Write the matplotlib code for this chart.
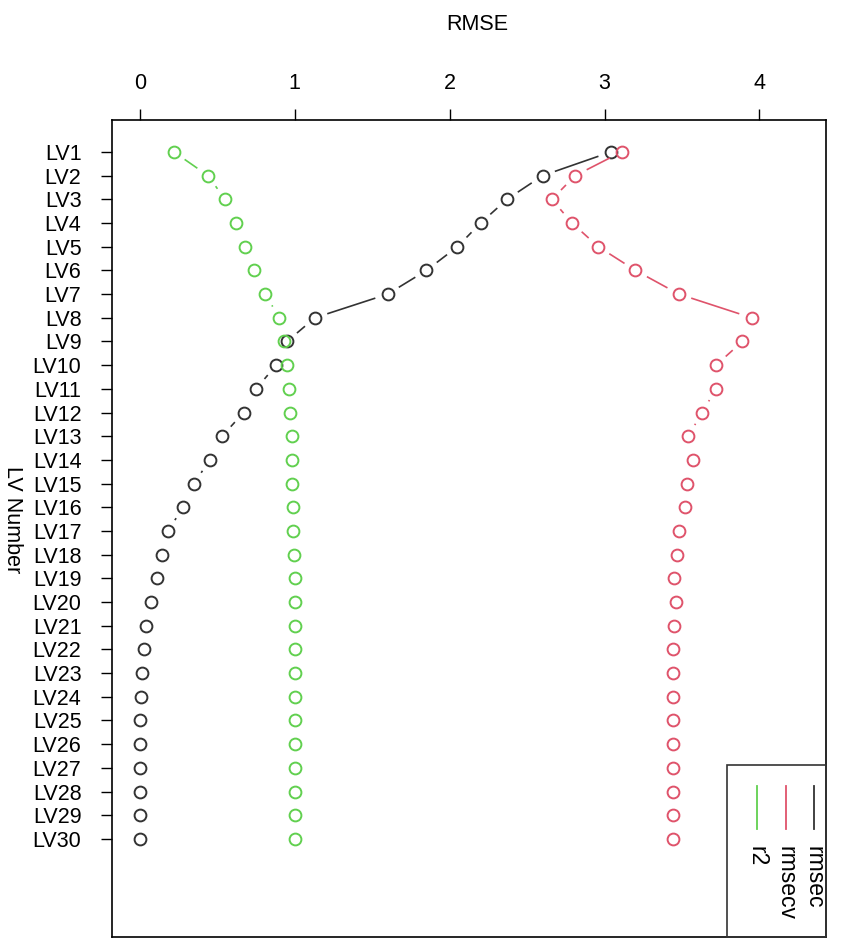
import numpy as np
import matplotlib.pyplot as plt
from matplotlib.patches import Rectangle
from matplotlib.lines import Line2D

plt.rcParams['font.family'] = ['Liberation Sans', 'DejaVu Sans']

lv_labels = ['LV%d' % i for i in range(1, 31)]
lv = np.arange(1, 31)

rmsec = [3.04, 2.60, 2.37, 2.20, 2.05, 1.85, 1.60, 1.13, 0.95, 0.88,
         0.75, 0.67, 0.53, 0.45, 0.35, 0.28, 0.18, 0.14, 0.11, 0.07,
         0.04, 0.025, 0.015, 0.008, 0.004, 0.002, 0.001, 0.0, 0.0, 0.0]
rmsecv = [3.11, 2.81, 2.66, 2.79, 2.96, 3.20, 3.48, 3.95, 3.89, 3.72,
          3.72, 3.63, 3.54, 3.57, 3.53, 3.52, 3.48, 3.47, 3.45, 3.46,
          3.45, 3.44, 3.44, 3.44, 3.44, 3.44, 3.44, 3.44, 3.44, 3.44]
r2 = [0.22, 0.44, 0.55, 0.62, 0.68, 0.74, 0.81, 0.90, 0.93, 0.95,
      0.96, 0.97, 0.98, 0.98, 0.985, 0.99, 0.99, 0.995, 1.0, 1.0,
      1.0, 1.0, 1.0, 1.0, 1.0, 1.0, 1.0, 1.0, 1.0, 1.0]

series_names = ['rmsec', 'rmsecv', 'r2']
colors = ['#333333', '#DF536B', '#61D04F']
x_ticks = [0, 1, 2, 3, 4]

W, H = 851, 939
fig = plt.figure(figsize=(W / 100, H / 100), dpi=100)
ax = fig.add_axes([112 / W, 1 - 937 / H, (826 - 112) / W, (937 - 120) / H])
ax.set_xlim(-0.18, 4.43)
ax.set_ylim(34.14, -0.35)

# R style type="b": segments with gaps around the points
gap = 13
for vals, col in zip([rmsec, rmsecv, r2], colors):
    pts = ax.transData.transform(np.column_stack([vals, lv]))
    for p, q in zip(pts[:-1], pts[1:]):
        d = q - p
        L = np.hypot(*d)
        if L > 2 * gap + 1:
            u = d / L
            a = ax.transData.inverted().transform([p + u * gap, q - u * gap])
            ax.plot(a[:, 0], a[:, 1], color=col, lw=1.2, solid_capstyle='butt')
    ax.plot(vals, lv, ls='none', marker='o', ms=8.5, mfc='none', mec=col, mew=1.4)

ax.xaxis.tick_top()
ax.set_xticks(x_ticks)
ax.set_xticklabels([str(t) for t in x_ticks])
ax.set_yticks(lv)
ax.set_yticklabels(lv_labels)
ax.tick_params(axis='x', length=8, width=1, pad=11, labelsize=15.5)
ax.tick_params(axis='y', length=8, width=1, pad=14, labelsize=15.5)
for s in ax.spines.values():
    s.set_linewidth(1.2)

fig.text(477 / W, 1 - 25 / H, 'RMSE', ha='center', va='center', fontsize=15.5)
fig.text(12 / W, 1 - 520 / H, 'LV Number', ha='center', va='center',
         rotation=-90, fontsize=15.5)

# legend drawn rotated like the original
lx0, ly0 = 727 / W, 1 - 937 / H
fig.patches.append(Rectangle((lx0, ly0), 826 / W - lx0, (937 - 765) / H,
                             transform=fig.transFigure, fill=False,
                             ec='#333333', lw=1.2))
for name, col, px in zip(series_names, colors, [814, 786, 757]):
    fig.lines.append(Line2D([px / W, px / W], [1 - 786 / H, 1 - 829 / H],
                            transform=fig.transFigure, color=col, lw=1.3))
    fig.text(px / W, 1 - 846 / H, name, rotation=-90, ha='center', va='top',
             fontsize=16.5)

fig.savefig('out.png', dpi=100)
